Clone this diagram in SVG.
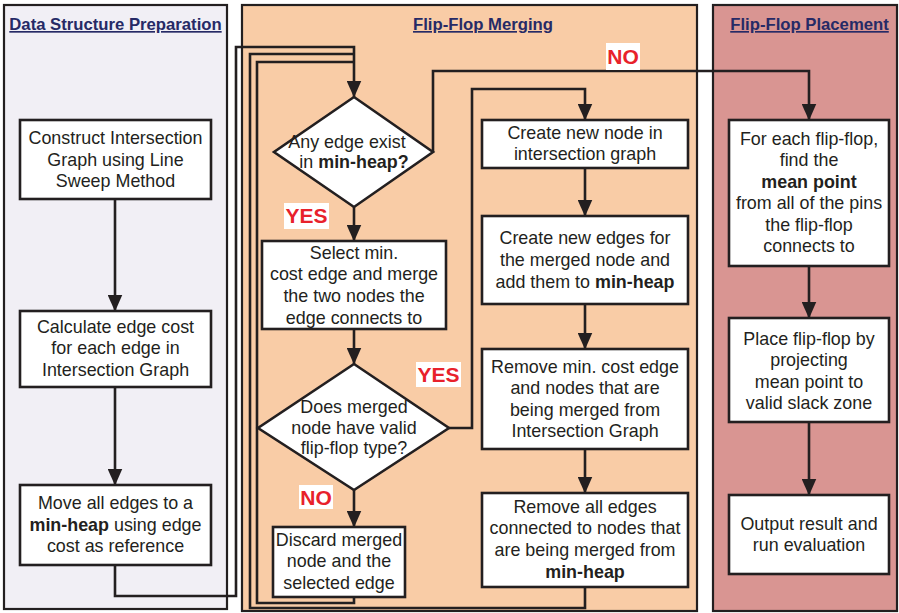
<svg xmlns="http://www.w3.org/2000/svg" width="899" height="613" viewBox="0 0 899 613">
<style>
.panel{stroke:#231f20;stroke-width:2.2}
.title{font-family:"Liberation Sans",Arial,sans-serif;font-size:16.7px;font-weight:bold;fill:#262a66;text-anchor:middle;text-decoration:underline}
.box{fill:#fff;stroke:#231f20;stroke-width:2.6}
.t{font-family:"Liberation Sans",Arial,sans-serif;font-size:17.9px;fill:#231f20;text-anchor:middle}
.b{font-weight:bold}
.conn path{fill:none;stroke:#231f20;stroke-width:2.6}
.lblbg{fill:#fff}
.lbl{font-family:"Liberation Sans",Arial,sans-serif;font-size:21px;font-weight:bold;fill:#e8212b;text-anchor:middle}
</style>
<defs>
<marker id="arr" markerUnits="userSpaceOnUse" viewBox="0 0 17 15" markerWidth="17" markerHeight="15" refX="16.5" refY="7.5" orient="auto">
<path d="M0,0 L17,7.5 L0,15 z" fill="#231f20"/>
</marker>
</defs>
<rect width="899" height="613" fill="#fff"/>
<g id="panel-prep">
<rect class="panel" x="4" y="5" width="223" height="604" fill="#f1eff5"/>
<text class="title" x="115.5" y="30">Data Structure Preparation</text>
</g>
<g id="panel-merge">
<rect class="panel" x="242" y="5" width="455" height="606" fill="#f9cca6"/>
<text class="title" x="483" y="30">Flip-Flop Merging</text>
</g>
<g id="panel-place">
<rect class="panel" x="713" y="5" width="184" height="606" fill="#d99592"/>
<text class="title" x="809.5" y="30">Flip-Flop Placement</text>
</g>
<g class="conn" id="connectors">
<path d="M115,199 V311" marker-end="url(#arr)"/>
<path d="M115,387 V485" marker-end="url(#arr)"/>
<path d="M354,597 V603 H257 V62 H354"/>
<path d="M585,587 V608 H250 V54 H354"/>
<path d="M115,565 V596 H236 V47 H354 V97" marker-end="url(#arr)"/>
<path d="M354,207 V241" marker-end="url(#arr)"/>
<path d="M354,329 V364" marker-end="url(#arr)"/>
<path d="M354,490 V527" marker-end="url(#arr)"/>
<path d="M449,428 H472 V89 H585 V120" marker-end="url(#arr)"/>
<path d="M433,152 V71 H809 V120" marker-end="url(#arr)"/>
<path d="M585,168 V216" marker-end="url(#arr)"/>
<path d="M585,304 V349" marker-end="url(#arr)"/>
<path d="M585,449 V493" marker-end="url(#arr)"/>
<path d="M809,266 V318" marker-end="url(#arr)"/>
<path d="M809,422 V495" marker-end="url(#arr)"/>
</g>
<g id="n-construct">
<rect class="box" x="20" y="120" width="191" height="79"/>
<text class="t" x="115.5" y="144">Construct Intersection</text>
<text class="t" x="115.5" y="166">Graph using Line</text>
<text class="t" x="115.5" y="187">Sweep Method</text>
</g>
<g id="n-calc">
<rect class="box" x="20" y="311" width="191" height="76"/>
<text class="t" x="115.5" y="333">Calculate edge cost</text>
<text class="t" x="115.5" y="354">for each edge in</text>
<text class="t" x="115.5" y="376">Intersection Graph</text>
</g>
<g id="n-move">
<rect class="box" x="20" y="485" width="191" height="80"/>
<text class="t" x="115.5" y="509">Move all edges to a</text>
<text class="t" x="115.5" y="531"><tspan class="b">min-heap</tspan> using edge</text>
<text class="t" x="115.5" y="552">cost as reference</text>
</g>
<g id="n-any">
<polygon class="box" points="354,97 433,152 354,207 274,152"/>
<text class="t" x="347" y="148">Any edge exist</text>
<text class="t" x="354" y="168">in <tspan class="b">min-heap?</tspan></text>
</g>
<g id="n-select">
<rect class="box" x="262" y="241" width="184" height="88"/>
<text class="t" x="354" y="259">Select min.</text>
<text class="t" x="354" y="280">cost edge and merge</text>
<text class="t" x="354" y="302">the two nodes the</text>
<text class="t" x="354" y="324">edge connects to</text>
</g>
<g id="n-valid">
<polygon class="box" points="354,364 449,428 354,490 258,428"/>
<text class="t" x="354" y="413">Does merged</text>
<text class="t" x="354" y="434">node have valid</text>
<text class="t" x="354" y="454">flip-flop type?</text>
</g>
<g id="n-discard">
<rect class="box" x="273" y="527" width="132" height="70"/>
<text class="t" x="339" y="546">Discard merged</text>
<text class="t" x="339" y="567">node and the</text>
<text class="t" x="339" y="589">selected edge</text>
</g>
<g id="n-newnode">
<rect class="box" x="482" y="120" width="206" height="48"/>
<text class="t" x="585" y="139">Create new node in</text>
<text class="t" x="585" y="160">intersection graph</text>
</g>
<g id="n-newedges">
<rect class="box" x="482" y="216" width="206" height="88"/>
<text class="t" x="585" y="244">Create new edges for</text>
<text class="t" x="585" y="266">the merged node and</text>
<text class="t" x="585" y="288">add them to <tspan class="b">min-heap</tspan></text>
</g>
<g id="n-removemin">
<rect class="box" x="482" y="349" width="206" height="100"/>
<text class="t" x="585" y="373">Remove min. cost edge</text>
<text class="t" x="585" y="394">and nodes that are</text>
<text class="t" x="585" y="416">being merged from</text>
<text class="t" x="585" y="437">Intersection Graph</text>
</g>
<g id="n-removeall">
<rect class="box" x="482" y="493" width="206" height="94"/>
<text class="t" x="585" y="513">Remove all edges</text>
<text class="t" x="585" y="534">connected to nodes that</text>
<text class="t" x="585" y="556">are being merged from</text>
<text class="t" x="585" y="578" font-weight="bold">min-heap</text>
</g>
<g id="n-mean">
<rect class="box" x="729" y="120" width="160" height="146"/>
<text class="t" x="809" y="145">For each flip-flop,</text>
<text class="t" x="809" y="166">find the</text>
<text class="t" x="809" y="188" font-weight="bold">mean point</text>
<text class="t" x="809" y="209">from all of the pins</text>
<text class="t" x="809" y="231">the flip-flop</text>
<text class="t" x="809" y="252">connects to</text>
</g>
<g id="n-place">
<rect class="box" x="729" y="318" width="160" height="104"/>
<text class="t" x="809" y="345">Place flip-flop by</text>
<text class="t" x="809" y="366">projecting</text>
<text class="t" x="809" y="388">mean point to</text>
<text class="t" x="809" y="409">valid slack zone</text>
</g>
<g id="n-output">
<rect class="box" x="729" y="495" width="160" height="79"/>
<text class="t" x="809" y="530">Output result and</text>
<text class="t" x="809" y="551">run evaluation</text>
</g>
<g id="labels">
<rect class="lblbg" x="284" y="203" width="45" height="26"/>
<text class="lbl" x="306.5" y="223">YES</text>
<rect class="lblbg" x="416" y="362" width="45" height="25"/>
<text class="lbl" x="438.5" y="382">YES</text>
<rect class="lblbg" x="606" y="43" width="34" height="27"/>
<text class="lbl" x="623" y="64">NO</text>
<rect class="lblbg" x="299" y="485" width="34" height="24"/>
<text class="lbl" x="316" y="505">NO</text>
</g>
</svg>
